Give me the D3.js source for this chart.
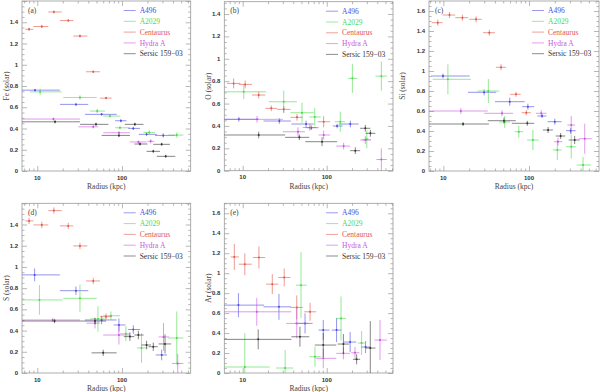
<!DOCTYPE html>
<html><head><meta charset="utf-8">
<script src="https://cdn.jsdelivr.net/npm/d3@7/dist/d3.min.js"></script>
<style>body{margin:0;background:#fff}svg{display:block}</style>
</head><body>
<svg id="c" width="600" height="392"></svg>
<script>
// ---- data: [radius, rLo, rHi, value, err] ----
const clusters = ["A496","A2029","Centaurus","Hydra A","Sersic 159\u221203"];
const clusterColors = ["#4a4ae0","#4cd84c","#e0584a","#cc55e0","#333333"];
const panelLabels = ["(a)","(b)","(c)","(d)","(e)"];
const elements = ["Fe","O","Si","S","Ar"];
const xTickLabels = ["10","100"];

const fe_A496 = [[9.4,6,18.5,.761,.012],[28.6,18.5,40,.627,.012],[57.5,36.5,86.5,.533,.012],[97,83,113,.473,.015],[136,118,163,.401,.015],[195,158,257,.345,.015],[307,245,426,.335,.02]];
const fe_A2029 = [[10.8,8.2,19.4,.745,.03],[31.9,20.3,50.2,.692,.02],[51,42,63,.564,.02],[72,60,95,.517,.015],[94.6,83,124,.407,.015],[210,179,245,.363,.02],[443,352,530,.338,.025]];
const fe_Cen = [[8,7.2,9,1.334,.015],[11.3,9,13.5,1.36,.015],[15.7,13.5,19.4,1.497,.015],[23.2,18.5,26.6,1.416,.015],[31.9,26.6,39,1.27,.015],[45.8,37.6,55,.934,.012],[64.8,55,75.5,.686,.012]];
const fe_Hyd = [[15.5,6,31.9,.489,.015],[45.8,30.5,52.5,.416,.015],[92,60,124,.36,.015],[156,124,195,.273,.015],[218,200,240,.279,.02]];
const fe_Ser = [[16.2,6,31.9,.463,.015],[49.3,32,69,.439,.015],[92,57.5,124,.335,.015],[142,108,179,.439,.015],[163,140,200,.254,.015],[234,195,281,.185,.015],[294,234,368,.251,.015],[328,257,426,.138,.015]];

const o_A496 = [[9,6,15.5,.459,.02],[27.3,17.7,37.5,.444,.025],[56.8,38,70,.417,.03],[65.6,57,80,.384,.02],[133,118,155,.399,.02],[191,139,240,.417,.03]];
const o_A2029 = [[10.3,6,19,.705,.065],[30.8,20.4,44.3,.616,.1],[50.8,37,70,.518,.09],[72,62,85,.48,.08],[145,125,165,.4375,.09],[202,180,230,.825,.13],[300,265,335,.28,.08],[447,380,520,.845,.13]];
const o_Cen = [[7.8,6.5,9.4,.78,.045],[10.7,9,12.9,.771,.035],[15.5,12.9,18.6,.676,.03],[21.9,18.6,25.6,.557,.025],[30.8,25.6,37,.548,.03],[44.3,37,52,.477,.03],[63,52,75,.386,.03],[92,78,110,.4375,.05]];
const o_Hyd = [[14.8,6,30,.459,.03],[45.5,30,55,.348,.04],[92,80,110,.319,.04],[159,130,190,.22,.03],[288,250,335,.274,.035],[447,390,520,.1,.1]];
const o_Ser = [[15.5,6,32,.319,.03],[47.2,32,62,.298,.025],[88,55.6,133,.259,.04],[219,190,250,.179,.03],[288,250,330,.379,.03],[331,290,380,.334,.03]];

const si_A496 = [[9.9,7.2,20.3,.95,.025],[29.9,19.4,41.5,.787,.03],[59.6,40,89,.693,.04],[97,83,115,.643,.03],[142,125,160,.55,.02],[200,165,240,.493,.03],[306,270,350,.403,.03]];
const si_A2029 = [[11.3,7.5,21,.917,.15],[33.5,25,45,.8,.12],[52,45,60,.49,.06],[76,68,85,.393,.06],[111,95,130,.31,.1],[214,190,240,.21,.1],[311,270,350,.243,.12],[427,360,530,.06,.08]];
const si_Cen = [[8.6,7.3,9.8,1.483,.03],[11.8,9.8,13.8,1.56,.03],[16.7,13.8,19.5,1.533,.03],[24.1,20,28,1.517,.03],[34.4,29,40,1.383,.03],[47.1,41,54,1.037,.03],[70.5,60,80,.767,.025],[93,82,105,.583,.025]];
const si_Hyd = [[16,6,33,.6,.03],[48.4,30,65,.577,.03],[139,120,160,.577,.03],[218,195,245,.293,.04],[311,280,345,.46,.09],[447,380,540,.323,.15]];
const si_Ser = [[17,6,34,.47,.02],[51,33,70,.503,.03],[95.5,63,115,.477,.025],[167,145,190,.41,.03],[234,205,265,.35,.03],[341,290,390,.31,.04]];

const s_A496 = [[9.3,6,18.5,.925,.06],[28.6,18.5,40,.776,.04],[57.5,36.5,86.5,.5,.04],[92,80,110,.453,.06],[136,118,163,.41,.04],[294,250,340,.17,.05]];
const s_A2029 = [[10.6,6,20,.689,.14],[31.9,20.3,50.2,.704,.13],[52,42,63,.51,.12],[74,60,95,.54,.04],[111,95,124,.37,.07],[170,150,200,.236,.14],[443,352,530,.33,.25]];
const s_Cen = [[8,7.2,9,1.434,.03],[11.3,9,13.5,1.396,.03],[15.7,13.5,19.4,1.531,.03],[23.2,18.5,26.6,1.387,.03],[31.9,26.6,39,1.198,.03],[45.8,37.6,55,.868,.03],[64.7,55,75.5,.531,.03]];
const s_Hyd = [[15.2,6,32,.5,.02],[48,38,55,.47,.05],[92,60,124,.358,.09],[309,270,360,.34,.13],[455,390,530,.09,.09]];
const s_Ser = [[16,6,32,.49,.02],[48,32,65,.49,.03],[60,43.8,86.5,.19,.03],[124,105,140,.343,.04],[156,140,180,.358,.04],[195,170,220,.264,.04],[234,205,265,.248,.04],[322,270,380,.274,.09]];

const ar_A496 = [[8.9,6,18,.68,.12],[27,17.7,37.5,.663,.13],[55.2,42,68,.497,.1],[91,80,108,.43,.1],[131,115,150,.43,.12],[190,160,225,.31,.1],[290,255,330,.26,.06]];
const ar_A2029 = [[10.6,6,21,.06,.34],[32,25,40,.05,.18],[49.4,43,58,.88,.33],[72.5,62,85,.163,.1],[148,130,170,.547,.22],[260,235,285,.3,.12]];
const ar_Cen = [[7.95,7.2,9,1.163,.13],[10.6,9,12.8,1.09,.11],[15.6,13.2,18.5,1.157,.11],[22.5,19,26.5,.89,.1],[31.2,26.5,37,.957,.09],[44,37,52,.657,.12],[63.4,54,75,.613,.09]];
const ar_Hyd = [[14.7,6,38,.613,.14],[44,33,60,.497,.15],[91,75,130,.147,.1],[158,130,190,.197,.06],[217,195,245,.203,.06],[431,370,520,.33,.2]];
const ar_Ser = [[15.3,6,38,.337,.1],[48,38,62,.363,.1],[91,72,130,.28,.12],[158,135,185,.29,.1],[227,205,250,.137,.05],[330,290,380,.25,.27]];

const panelData = [
  [fe_A496, fe_A2029, fe_Cen, fe_Hyd, fe_Ser],
  [o_A496, o_A2029, o_Cen, o_Hyd, o_Ser],
  [si_A496, si_A2029, si_Cen, si_Hyd, si_Ser],
  [s_A496, s_A2029, s_Cen, s_Hyd, s_Ser],
  [ar_A496, ar_A2029, ar_Cen, ar_Hyd, ar_Ser]
];
const xDomains = [[6.6,647],[6.04,615],[6.8,656],[6.6,647],[6.04,615]];
const yMax = [1.6,1.51,1.7,1.6,1.7];

// ---- layout ----
const boxes = [
  {l:22, r:190.7, t:1, b:171, yl:6},
  {l:224.3, r:393, t:1.7, b:170.7, yl:208},
  {l:429, r:599, t:1, b:171, yl:402},
  {l:22, r:190.7, t:203.3, b:373, yl:6},
  {l:224.3, r:393, t:203.3, b:373, yl:208}
];
const svg = d3.select("#c");
const frameCol = "#9a9a9a";
const serif = "'Liberation Serif','DejaVu Serif',serif";
const sans = "'Liberation Sans',Arial,sans-serif";

boxes.forEach((bx, i) => {
  const x = d3.scaleLog().domain(xDomains[i]).range([bx.l, bx.r]);
  const y = d3.scaleLinear().domain([0, yMax[i]]).range([bx.b, bx.t]);
  const g = svg.append("g");
  const cid = "clip" + i;
  svg.append("clipPath").attr("id", cid).append("rect")
    .attr("x", bx.l).attr("y", bx.t).attr("width", bx.r - bx.l).attr("height", bx.b - bx.t);

  const yMajor = d3.range(0, yMax[i] + 1e-9, 0.2).map(v => +v.toFixed(2));
  const yMinor = d3.range(0, yMax[i] + 1e-9, 0.05).map(v => +v.toFixed(2)).filter(v => Math.abs(v*5 - Math.round(v*5)) > 1e-6);
  const xMajor = [10, 100];
  const xMinor = [];
  [1, 10, 100].forEach(dec => { for (let k = 2; k <= 9; k++) { const v = k * dec; if (v > xDomains[i][0] && v < xDomains[i][1]) xMinor.push(v); } });

  const axL = d3.axisRight(y).tickValues(yMajor).tickSize(5).tickFormat("");
  const axLm = d3.axisRight(y).tickValues(yMinor).tickSize(2.5).tickFormat("");
  const axR = d3.axisLeft(y).tickValues(yMajor).tickSize(5).tickFormat("");
  const axRm = d3.axisLeft(y).tickValues(yMinor).tickSize(2.5).tickFormat("");
  const axB = d3.axisTop(x).tickValues(xMajor).tickSize(5).tickFormat("");
  const axBm = d3.axisTop(x).tickValues(xMinor).tickSize(2.5).tickFormat("");
  const axT = d3.axisBottom(x).tickValues(xMajor).tickSize(5).tickFormat("");
  const axTm = d3.axisBottom(x).tickValues(xMinor).tickSize(2.5).tickFormat("");
  [[axL, `translate(${bx.l},0)`], [axLm, `translate(${bx.l},0)`],
   [axR, `translate(${bx.r},0)`], [axRm, `translate(${bx.r},0)`],
   [axB, `translate(0,${bx.b})`], [axBm, `translate(0,${bx.b})`],
   [axT, `translate(0,${bx.t})`], [axTm, `translate(0,${bx.t})`]].forEach(([ax, tr]) => {
    const a = g.append("g").attr("transform", tr).call(ax);
    a.select(".domain").remove();
    a.selectAll("line").attr("stroke", frameCol).attr("stroke-width", 0.7);
  });
  g.append("rect").attr("x", bx.l).attr("y", bx.t).attr("width", bx.r - bx.l).attr("height", bx.b - bx.t)
    .attr("fill", "none").attr("stroke", frameCol).attr("stroke-width", 0.8);

  // tick labels
  g.selectAll(".yt").data(yMajor.filter(v => v < yMax[i] - 0.05)).enter().append("text")
    .attr("x", bx.l - 4).attr("y", d => y(d)).attr("dy", "0.35em").attr("text-anchor", "end")
    .attr("font-family", sans).attr("font-size", 6).attr("font-weight", "bold").attr("fill", "#333")
    .text(d => d === 0 ? "0" : (d === 1 ? "1" : d3.format(".1f")(d)));
  g.selectAll(".xt").data(xMajor).enter().append("text")
    .attr("x", d => x(d)).attr("y", bx.b + 8.5).attr("text-anchor", "middle")
    .attr("font-family", sans).attr("font-size", 6).attr("font-weight", "bold").attr("fill", "#333")
    .text((d, k) => xTickLabels[k]);

  // axis titles
  g.append("text").attr("x", (bx.l + bx.r) / 2).attr("y", bx.b + 18).attr("text-anchor", "middle")
    .attr("font-family", serif).attr("font-size", 7.5).attr("fill", "#444").text("Radius (kpc)");
  g.append("text").attr("transform", `translate(${bx.yl},${(bx.t + bx.b) / 2}) rotate(-90)`)
    .attr("text-anchor", "middle").attr("dy", "0.35em")
    .attr("font-family", serif).attr("font-size", 7.5).attr("fill", "#444").text(elements[i] + " (solar)");
  g.append("text").attr("x", bx.l + 6).attr("y", bx.t + 9).attr("dy", "0.35em")
    .attr("font-family", serif).attr("font-size", 7.5).attr("fill", "#444").text(panelLabels[i]);

  // legend
  clusters.forEach((c, k) => {
    const ly = bx.t + 9.5 + k * 10.8;
    g.append("line").attr("x1", bx.r - 67).attr("x2", bx.r - 55).attr("y1", ly).attr("y2", ly)
      .attr("stroke", clusterColors[k]).attr("stroke-width", 0.7).attr("stroke-opacity", 0.8);
    g.append("text").attr("x", bx.r - 51).attr("y", ly).attr("dy", "0.35em")
      .attr("font-family", serif).attr("font-size", 7.5).attr("fill", clusterColors[k]).text(c);
  });

  // data
  const dg = g.append("g").attr("clip-path", `url(#${cid})`);
  panelData[i].forEach((series, k) => {
    const col = clusterColors[k];
    const sg = dg.append("g").attr("stroke-opacity", 0.85);
    sg.selectAll(".h").data(series).enter().append("line")
      .attr("x1", d => x(d[1])).attr("x2", d => x(d[2])).attr("y1", d => y(d[3])).attr("y2", d => y(d[3]))
      .attr("stroke", col).attr("stroke-width", 0.7);
    sg.selectAll(".v").data(series).enter().append("line")
      .attr("x1", d => x(d[0])).attr("x2", d => x(d[0])).attr("y1", d => y(d[3] - d[4])).attr("y2", d => y(d[3] + d[4]))
      .attr("stroke", col).attr("stroke-width", 0.7);
    sg.selectAll(".p").data(series).enter().append("circle")
      .attr("cx", d => x(d[0])).attr("cy", d => y(d[3])).attr("r", 1).attr("fill", col);
  });
});
</script>
</body></html>
